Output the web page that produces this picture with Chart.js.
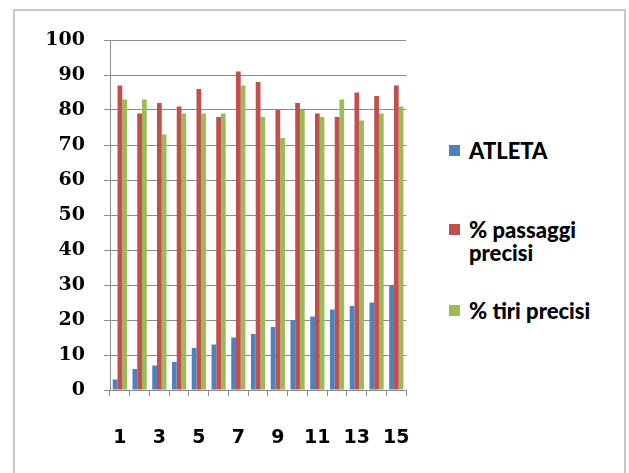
<!DOCTYPE html>
<html>
<head>
<meta charset="utf-8">
<script src="https://cdn.jsdelivr.net/npm/chart.js@4/dist/chart.umd.min.js"></script>
<style>
    body { margin: 0; background: #fff; width: 629px; height: 473px; overflow: hidden; position: relative; }
    #cornice { position: absolute; left: 13px; top: 9px; width: 613px; height: 480px; border: 2px solid #c8c8c8; box-sizing: border-box; }
    #contenitore { position: absolute; left: 0; top: 0; width: 441px; height: 473px; }
    #legenda { position: absolute; left: 449px; top: 0; font-family: Lato, "Open Sans", sans-serif; font-weight: 900; font-size: 22px; color: #000; }
    .voce { position: absolute; left: 0; white-space: nowrap; line-height: 23px; }
    .quadrato { position: absolute; left: 0; top: 6px; width: 11px; height: 11px; }
    .testo { position: absolute; left: 20px; top: 0; }
</style>
</head>
<body>
<div id="cornice"></div>
<div id="contenitore"><canvas id="grafico" width="441" height="473"></canvas></div>
<div id="legenda"></div>
<script>
// Dati
const categorie = ['1','2','3','4','5','6','7','8','9','10','11','12','13','14','15'];
const atleta = [3, 6, 7, 8, 12, 13, 15, 16, 18, 20, 21, 23, 24, 25, 30];
const passaggiPrecisi = [87, 79, 82, 81, 86, 78, 91, 88, 80, 82, 79, 78, 85, 84, 87];
const tiriPrecisi = [83, 83, 73, 79, 79, 79, 87, 78, 72, 80, 78, 83, 77, 79, 81];
const nomiSerie = ['ATLETA', '% passaggi precisi', '% tiri precisi'];
const coloriSerie = ['#4f81bd', '#c0504d', '#9bbb59'];

// Legenda in HTML (il testo va a capo come nell'originale)
const legenda = document.getElementById('legenda');
const righeLegenda = [['ATLETA'], ['% passaggi', 'precisi'], ['% tiri precisi']];
const topLegenda = [139, 218, 299];
righeLegenda.forEach((righe, i) => {
    const voce = document.createElement('div');
    voce.className = 'voce';
    voce.style.top = topLegenda[i] + 'px';
    voce.innerHTML = `<div class="quadrato" style="background:${coloriSerie[i]}"></div>
        <div class="testo">${righe.join('<br>')}</div>`;
    legenda.appendChild(voce);
});

const ctx = document.getElementById('grafico').getContext('2d');
new Chart(ctx, {
    type: 'bar',
    data: {
        labels: categorie,
        datasets: [
            { label: nomiSerie[0], data: atleta, backgroundColor: coloriSerie[0] },
            { label: nomiSerie[1], data: passaggiPrecisi, backgroundColor: coloriSerie[1] },
            { label: nomiSerie[2], data: tiriPrecisi, backgroundColor: coloriSerie[2] }
        ]
    },
    options: {
        responsive: false,
        animation: false,
        layout: { padding: { top: 40, right: 14, bottom: 0, left: 0 } },
        datasets: { bar: { categoryPercentage: 0.72, barPercentage: 1 } },
        plugins: { legend: { display: false }, tooltip: { enabled: false } },
        scales: {
            x: {
                afterFit: s => { s.height = 83; },
                border: { color: '#8c8c8c', width: 1 },
                grid: { offset: true, drawOnChartArea: false, drawTicks: true, tickLength: 6, color: '#8c8c8c' },
                ticks: {
                    autoSkip: false,
                    maxRotation: 0,
                    padding: 31,
                    color: '#000',
                    font: { family: '"DejaVu Sans"', weight: 'bold', size: 19 },
                    callback: (v, i) => (i % 2 === 0 ? categorie[i] : '')
                }
            },
            y: {
                min: 0,
                max: 100,
                afterFit: s => { s.width = 110; },
                border: { color: '#8c8c8c', width: 1 },
                grid: { color: '#8c8c8c', tickLength: 6 },
                ticks: {
                    stepSize: 10,
                    padding: 19,
                    color: '#000',
                    font: { family: '"DejaVu Serif"', weight: 'bold', size: 19 }
                }
            }
        }
    }
});
</script>
</body>
</html>
